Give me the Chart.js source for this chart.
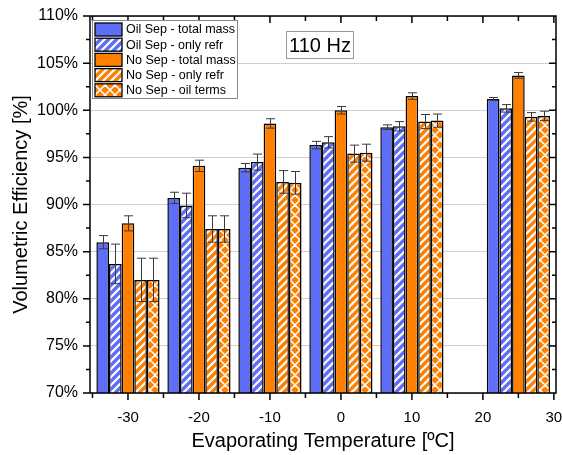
<!DOCTYPE html>
<html>
<head>
<meta charset="utf-8">
<script src="https://cdn.jsdelivr.net/npm/chart.js@4.4.0/dist/chart.umd.min.js"></script>
<style>
  html, body { margin: 0; padding: 0; background: #fff; }
  #wrap { width: 563px; height: 455px; }
</style>
</head>
<body>
<div id="wrap"><canvas id="chart"></canvas></div>
<script>
// evaporating temperatures (group centres)
const temps = [-30, -20, -10, 0, 10, 25];

// volumetric efficiency [%] and error bar half-widths
const oilTotal = [86.0, 90.7, 93.9, 96.3, 98.2, 101.2];
const oilTotalErr = [0.7, 0.6, 0.45, 0.4, 0.25, 0.15];
const oilRefr = [83.7, 89.9, 94.5, 96.6, 98.3, 100.2];
const oilRefrErr = [2.1, 1.3, 0.85, 0.6, 0.5, 0.4];
const noSepTotal = [88.0, 94.1, 98.6, 100.0, 101.5, 103.7];
const noSepTotalErr = [0.8, 0.6, 0.5, 0.4, 0.35, 0.3];
const noSepRefr = [82.0, 87.4, 92.4, 95.4, 98.8, 99.3];
const noSepRefrErr = [2.3, 1.4, 1.2, 0.9, 0.75, 0.45];
const noSepOil = [82.0, 87.4, 92.3, 95.5, 98.9, 99.4];
const noSepOilErr = [2.3, 1.4, 1.2, 0.9, 0.7, 0.5];

const xTicks = [-30, -20, -10, 0, 10, 20, 30];
const labelText = '110 Hz';

const BLUE = '#5f6ef9';
const ORANGE = '#ff8000';
const FONT = '"Liberation Sans", Arial, sans-serif';

const canvas = document.getElementById('chart');
const mainCtx = canvas.getContext('2d');

function stripes(bg) {
  const c = document.createElement('canvas');
  c.width = 8; c.height = 8;
  const g = c.getContext('2d');
  g.fillStyle = bg;
  g.fillRect(0, 0, 8, 8);
  g.strokeStyle = '#fff';
  g.lineWidth = 2.2;
  g.beginPath();
  g.moveTo(-1, 9); g.lineTo(9, -1);
  g.moveTo(-5, 5); g.lineTo(5, -5);
  g.moveTo(3, 13); g.lineTo(13, 3);
  g.stroke();
  return mainCtx.createPattern(c, 'repeat');
}

function cross(bg) {
  const c = document.createElement('canvas');
  c.width = 10; c.height = 10;
  const g = c.getContext('2d');
  g.fillStyle = bg;
  g.fillRect(0, 0, 10, 10);
  g.strokeStyle = '#fff';
  g.lineWidth = 1.5;
  g.beginPath();
  g.moveTo(0, 10); g.lineTo(10, 0);
  g.moveTo(0, 0); g.lineTo(10, 10);
  g.moveTo(-5, 5); g.lineTo(5, -5);
  g.moveTo(5, 15); g.lineTo(15, 5);
  g.moveTo(-5, 5); g.lineTo(5, 15);
  g.moveTo(5, -5); g.lineTo(15, 5);
  g.stroke();
  return mainCtx.createPattern(c, 'repeat');
}

const toPoints = (vals) => vals.map((v, i) => ({x: temps[i], y: v}));

const series = [
  {label: 'Oil Sep - total mass', data: oilTotal, err: oilTotalErr, fill: BLUE},
  {label: 'Oil Sep - only refr', data: oilRefr, err: oilRefrErr, fill: stripes(BLUE)},
  {label: 'No Sep - total mass', data: noSepTotal, err: noSepTotalErr, fill: ORANGE},
  {label: 'No Sep - only refr', data: noSepRefr, err: noSepRefrErr, fill: stripes(ORANGE)},
  {label: 'No Sep - oil terms', data: noSepOil, err: noSepOilErr, fill: cross(ORANGE)},
];

const errorBars = {
  id: 'errorBars',
  afterDatasetsDraw(chart) {
    const ctx = chart.ctx;
    const y = chart.scales.y;
    ctx.save();
    ctx.strokeStyle = '#3a3a3a';
    ctx.lineWidth = 1;
    series.forEach((s, di) => {
      const meta = chart.getDatasetMeta(di);
      meta.data.forEach((bar, i) => {
        const top = y.getPixelForValue(s.data[i] + s.err[i]);
        const bot = y.getPixelForValue(s.data[i] - s.err[i]);
        const cx = Math.round(bar.x) + 0.5;
        ctx.beginPath();
        ctx.moveTo(cx, top); ctx.lineTo(cx, bot);
        ctx.moveTo(cx - 4.5, top); ctx.lineTo(cx + 4.5, top);
        ctx.moveTo(cx - 4.5, bot); ctx.lineTo(cx + 4.5, bot);
        ctx.stroke();
      });
    });
    ctx.restore();
  }
};

const frame = {
  id: 'frame',
  afterDraw(chart) {
    const ctx = chart.ctx;
    const a = chart.chartArea;
    const x = chart.scales.x;
    const y = chart.scales.y;
    ctx.save();
    ctx.setLineDash([]);
    ctx.strokeStyle = '#000000';
    ctx.lineWidth = 1.5;
    ctx.beginPath();
    ctx.moveTo(a.left, a.top);
    ctx.lineTo(a.right, a.top);
    ctx.lineTo(a.right, a.bottom);
    ctx.lineTo(a.left, a.bottom);
    ctx.closePath();
    for (let v = 70; v <= 110; v += 2.5) {
      const py = y.getPixelForValue(v);
      const len = v % 5 === 0 ? 7 : 4;
      ctx.moveTo(a.left - len, py); ctx.lineTo(a.left, py);
      ctx.moveTo(a.right - len, py); ctx.lineTo(a.right, py);
    }
    for (let v = -35; v <= 30; v += 5) {
      const px = x.getPixelForValue(v);
      if (px < a.left + 1) continue;
      const len = v % 10 === 0 ? 7 : 5;
      ctx.moveTo(px, a.bottom); ctx.lineTo(px, a.bottom + len);
      ctx.moveTo(px, a.top); ctx.lineTo(px, a.top + len);
    }
    ctx.stroke();

    // legend
    const lx = a.left + 2, ly = a.top + 4;
    ctx.fillStyle = '#fff';
    ctx.fillRect(lx, ly, 145, 78);
    ctx.strokeStyle = '#888';
    ctx.lineWidth = 1;
    ctx.strokeRect(lx + 0.5, ly + 0.5, 145, 78);
    ctx.font = '12.5px ' + FONT;
    ctx.textBaseline = 'middle';
    ctx.textAlign = 'left';
    series.forEach((s, i) => {
      const sy = ly + 3 + i * 15.2;
      ctx.fillStyle = s.fill;
      ctx.fillRect(lx + 3, sy, 27, 13);
      ctx.strokeStyle = '#000';
      ctx.lineWidth = 1.3;
      ctx.strokeRect(lx + 3, sy, 27, 13);
      ctx.fillStyle = '#000';
      ctx.fillText(s.label, lx + 34, sy + 7);
    });

    // frequency label
    const bx = 286, by = 31;
    ctx.fillStyle = '#fff';
    ctx.fillRect(bx, by, 67, 27);
    ctx.strokeStyle = '#999';
    ctx.lineWidth = 1;
    ctx.strokeRect(bx + 0.5, by + 0.5, 67, 27);
    ctx.fillStyle = '#000';
    ctx.font = '20px ' + FONT;
    ctx.textAlign = 'center';
    ctx.fillText(labelText, bx + 34, by + 15);
    ctx.restore();
  }
};

new Chart(canvas, {
  type: 'bar',
  data: {
    datasets: series.map((s) => ({
      label: s.label,
      data: toPoints(s.data),
      backgroundColor: s.fill,
      borderColor: '#000',
      borderWidth: 1.5,
      borderSkipped: false,
      categoryPercentage: 0.89,
      barPercentage: 1.0,
    })),
  },
  options: {
    responsive: true,
    maintainAspectRatio: false,
    animation: false,
    layout: {padding: {left: 0, top: 16, right: 7, bottom: 0}},
    plugins: {
      legend: {display: false},
      tooltip: {enabled: false},
    },
    scales: {
      x: {
        type: 'linear',
        offset: false,
        min: -35.35,
        max: 30.3,
        afterBuildTicks: (scale) => { scale.ticks = xTicks.map((v) => ({value: v})); },
        afterFit: (scale) => {
          scale.height = 62;
          scale.paddingLeft = 0;
          scale.paddingRight = 0;
        },
        grid: {display: false},
        border: {display: false},
        ticks: {
          color: '#000',
          padding: 8,
          maxRotation: 0,
          font: {family: FONT, size: 15},
        },
        title: {
          display: true,
          text: 'Evaporating Temperature [ºC]',
          color: '#000',
          padding: {top: 4, bottom: 2},
          font: {family: FONT, size: 20},
        },
      },
      y: {
        min: 70,
        max: 110,
        afterFit: (scale) => {
          scale.width = 90;
          scale.paddingTop = 0;
          scale.paddingBottom = 0;
        },
        grid: {
          color: '#cfcfcf',
          lineWidth: 1,
          drawTicks: false,
        },
        border: {display: false},
        ticks: {
          stepSize: 5,
          color: '#000',
          padding: 12,
          callback: (v) => v + '%',
          font: {family: FONT, size: 16},
        },
        title: {
          display: true,
          text: 'Volumetric Efficiency [%]',
          color: '#000',
          padding: {top: 9, bottom: 0},
          font: {family: FONT, size: 20},
        },
      },
    },
  },
  plugins: [errorBars, frame],
});
</script>
</body>
</html>
